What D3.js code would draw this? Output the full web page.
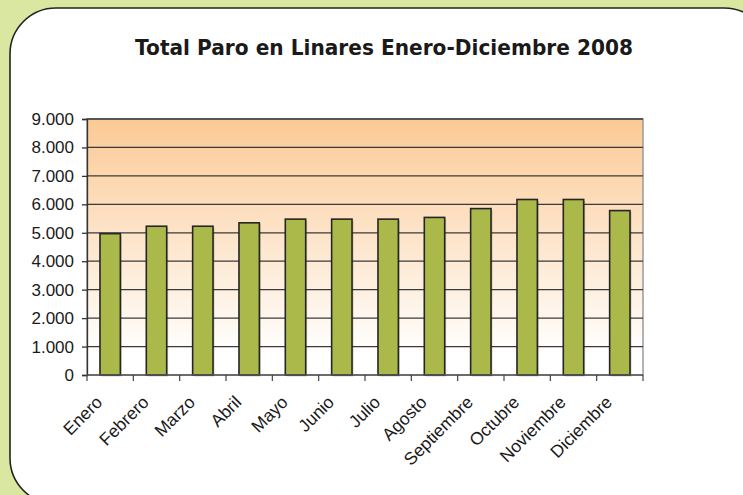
<!DOCTYPE html>
<html><head><meta charset="utf-8">
<script src="https://cdn.jsdelivr.net/npm/d3@7"></script>
<style>body{margin:0;background:#d9e7a1;}svg{display:block;}</style>
</head><body>
<script>
const months = ["Enero","Febrero","Marzo","Abril","Mayo","Junio","Julio","Agosto","Septiembre","Octubre","Noviembre","Diciembre"];
const paro = [4970,5230,5230,5350,5480,5480,5480,5540,5850,6170,6170,5780];
const yTicks = [0,1000,2000,3000,4000,5000,6000,7000,8000,9000];
const title = "Total Paro en Linares Enero-Diciembre 2008";

(function(){
const W = 743, H = 495;
const svg = d3.select("body").append("svg").attr("width", W).attr("height", H);
const defs = svg.append("defs");
const grad = defs.append("linearGradient").attr("id","bg").attr("x1",0).attr("y1",0).attr("x2",0).attr("y2",1);
grad.append("stop").attr("offset","0%").attr("stop-color","#fbca95");
grad.append("stop").attr("offset","92%").attr("stop-color","#ffffff");
grad.append("stop").attr("offset","100%").attr("stop-color","#ffffff");

svg.append("rect").attr("width",W).attr("height",H).attr("fill","#d9e7a1");
svg.append("rect").attr("x",10).attr("y",8).attr("width",760).attr("height",496)
  .attr("rx",46).attr("ry",46).attr("fill","#fff").attr("stroke","#222").attr("stroke-width",1.6);

svg.append("text").attr("x",384).attr("y",55).attr("text-anchor","middle")
  .attr("font-family","'Comic Sans MS','DejaVu Sans',sans-serif").attr("font-weight","bold")
  .attr("font-size",22).attr("fill","#1a1a1a")
  .attr("textLength",498).attr("lengthAdjust","spacingAndGlyphs").text(title);

const pL = 87, pR = 643, pT = 119, pB = 375;
const x = d3.scaleBand().domain(months).range([pL,pR]).paddingInner(0.56).paddingOuter(0.28);
const xb = d3.scaleBand().domain(months).range([pL,pR]);
const y = d3.scaleLinear().domain([0,9000]).range([pB,pT]);

svg.append("rect").attr("x",pL).attr("y",pT).attr("width",pR-pL).attr("height",pB-pT)
  .attr("fill","url(#bg)").attr("stroke","#9a9a9a").attr("stroke-width",1.5);

svg.append("g").selectAll("line").data(yTicks.filter(d=>d>0)).join("line")
  .attr("x1",pL).attr("x2",pR).attr("y1",d=>y(d)).attr("y2",d=>y(d))
  .attr("stroke","#3a3a3a").attr("stroke-width",1.3);

svg.append("g").selectAll("rect").data(paro).join("rect")
  .attr("x",(d,i)=>x(months[i])+1.5).attr("y",d=>y(d)+1.5)
  .attr("width",x.bandwidth()).attr("height",d=>pB-y(d))
  .attr("fill","rgba(0,0,0,0.18)");
svg.append("g").selectAll("rect").data(paro).join("rect")
  .attr("x",(d,i)=>x(months[i])).attr("y",d=>y(d))
  .attr("width",x.bandwidth()).attr("height",d=>pB-y(d))
  .attr("fill","#abb94b").attr("stroke","#252525").attr("stroke-width",1.6);

const yAxis = svg.append("g").attr("transform",`translate(${pL},0)`)
  .call(d3.axisLeft(y).tickValues(yTicks).tickSize(5).tickPadding(8)
    .tickFormat(d=>d===0?"0":d3.format(",")(d).replace(/,/g,".")));
yAxis.select(".domain").attr("stroke","#333").attr("stroke-width",1.3);
yAxis.selectAll(".tick line").attr("stroke","#333").attr("stroke-width",1.3);
yAxis.selectAll("text").attr("font-family","'Liberation Sans',Arial,sans-serif")
  .attr("font-size",17).attr("fill","#1a1a1a");

const xg = svg.append("g").attr("transform",`translate(0,${pB})`);
xg.append("line").attr("x1",pL).attr("x2",pR).attr("stroke","#555").attr("stroke-width",1.5);
const bounds = months.map(m=>xb(m)).concat([pR]);
xg.selectAll("line.t").data(bounds).join("line").attr("class","t")
  .attr("x1",d=>d).attr("x2",d=>d).attr("y1",0).attr("y2",6)
  .attr("stroke","#444").attr("stroke-width",1.2);
xg.selectAll("text").data(months).join("text")
  .attr("transform",d=>`translate(${xb(d)+xb.bandwidth()/2-11},${24}) rotate(-45)`)
  .attr("text-anchor","end").attr("dy","0.35em")
  .attr("font-family","'Liberation Sans',Arial,sans-serif").attr("font-size",17.5)
  .attr("fill","#1a1a1a").text(d=>d);
})();
</script>
</body></html>
